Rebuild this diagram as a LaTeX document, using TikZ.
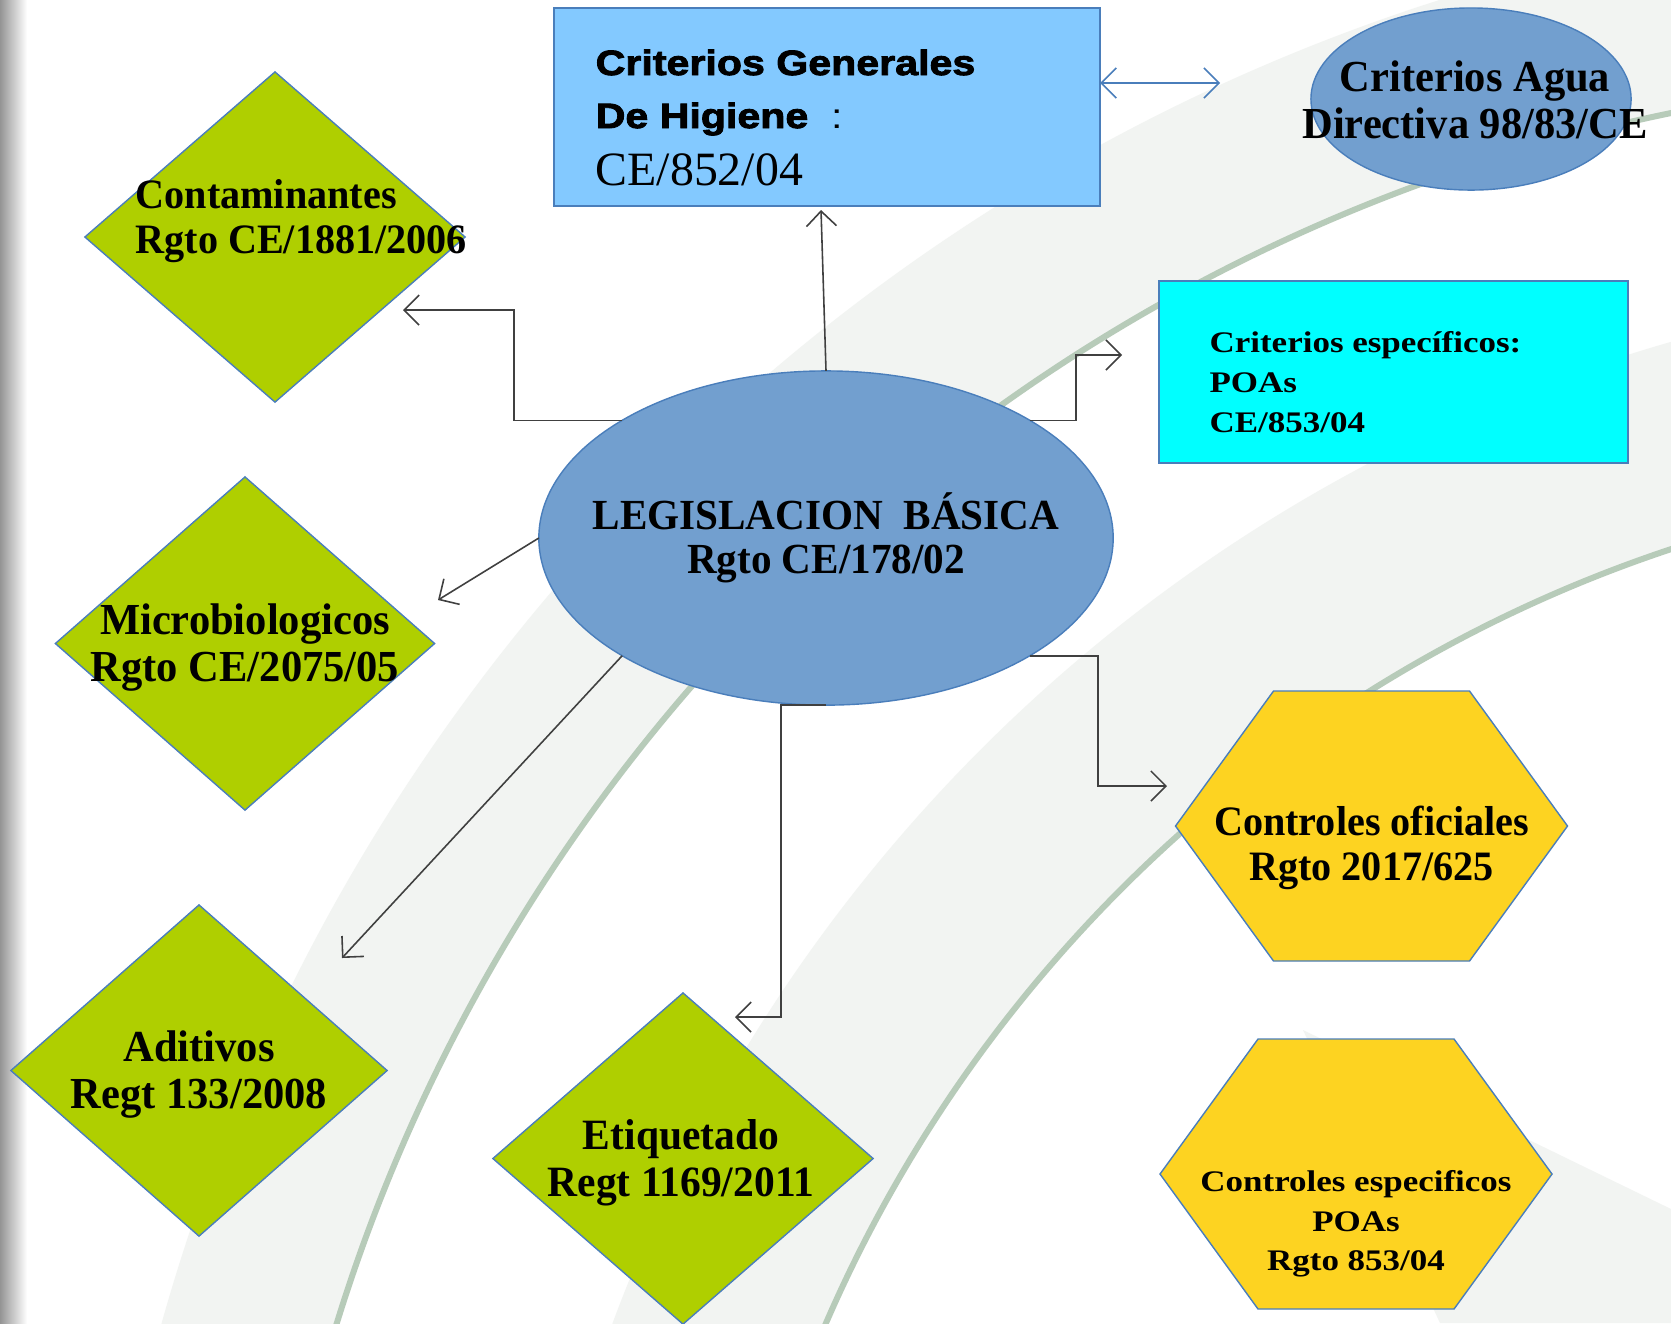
\documentclass[tikz,border=0pt]{standalone}
\usepackage{fontspec}
\setmainfont{Liberation Serif}
\newfontfamily\tnr[FakeStretch=0.96]{Liberation Serif}
\newfontfamily\tnrw[FakeStretch=1.17]{Liberation Serif}
\newfontfamily\arlw[FakeStretch=1.17, BoldFeatures={FakeBold=2.5}]{Liberation Sans}
\usetikzlibrary{shapes.geometric, arrows.meta, calc}

\definecolor{leaf}{RGB}{175,207,0}
\definecolor{sun}{RGB}{253,211,33}
\definecolor{sky}{RGB}{131,201,255}
\definecolor{aqua}{RGB}{0,255,255}
\definecolor{steel}{RGB}{114,159,207}
\definecolor{rim}{RGB}{74,126,187}
\definecolor{mist}{RGB}{242,244,242}
\definecolor{sage}{RGB}{183,203,185}

\begin{document}
\begin{tikzpicture}[x=0.01cm, y=-0.01cm,
        chev/.tip={Straight Barb[length=1.5mm, width=3mm]},
        shapebox/.style={draw=rim, line width=0.4pt, outer sep=0pt, inner sep=0pt},
        rombo/.style={shapebox, diamond, fill=leaf, minimum width=3.8cm, minimum height=3.3cm},
        ovalo/.style={shapebox, ellipse, fill=steel},
        caja/.style={shapebox, rectangle},
        hexa/.style={draw=rim, line width=0.4pt, fill=sun},
        lbl/.style={inner sep=0pt, align=center},
        link/.style={draw=black!75, line width=0.45pt, -chev},
        swoosh/.style={draw=sage, line width=0.06cm}]
        \useasboundingbox (0,0) rectangle (1671,1323);

        % Background swooshes
        \fill[white] (0,0) rectangle (1671,1323);
        \begin{scope}
            \clip (0,0) rectangle (1671,1323);
            \fill[mist, even odd rule] (2028,1847) circle (1938) (2028,1847) circle (1770);
            \fill[mist, even odd rule] (2113,1880) circle (1600) (2113,1880) circle (1402);
            \fill[mist] (1303,1030) -- (1671,1209) -- (1671,1323) -- (1440,1323) -- cycle;
            \draw[swoosh] (2028,1847) circle (1770);
            \draw[swoosh] (2113,1880) circle (1402);
        \end{scope}
        \shade[left color=black!42, right color=white] (0,0) rectangle (27,1323);

        % Shapes
        \node[caja, fill=sky, minimum width=5.46cm, minimum height=1.98cm] (cg) at (827,107) {};
        \node[ovalo, minimum width=3.2cm, minimum height=1.82cm] (ag) at (1471,99) {};
        \node[caja, fill=aqua, minimum width=4.69cm, minimum height=1.82cm] (ce) at (1393.5,372) {};
        \node[ovalo, minimum width=5.74cm, minimum height=3.34cm] (lb) at (826,538) {};
        \node[rombo] (ct) at (275,237) {};
        \node[rombo, minimum width=3.79cm, minimum height=3.33cm] (mb) at (245,643.5) {};
        \node[rombo, minimum width=3.76cm, minimum height=3.31cm] (ad) at (199,1070.5) {};
        \node[rombo, minimum height=3.31cm] (et) at (683,1158.5) {};
        \coordinate (co) at (1371.5,826);
        \coordinate (cs) at (1356,1174);
        \filldraw[hexa] ($(co)+(-196,0)$) -- ++(98,-135) -- ++(196,0) -- ++(98,135) -- ++(-98,135) -- ++(-196,0) -- cycle;
        \filldraw[hexa] ($(cs)+(-196,0)$) -- ++(98,-135) -- ++(196,0) -- ++(98,135) -- ++(-98,135) -- ++(-196,0) -- cycle;

        % Arrow ends
        \coordinate (cg-in) at (821,210);
        \coordinate (ag-in) at (1220,83);
        \coordinate (ct-in) at (403,310);
        \coordinate (ce-in) at (1122,355);
        \coordinate (mb-in) at (438,600);
        \coordinate (ad-in) at (342,958);
        \coordinate (et-in) at (735,1017);
        \coordinate (co-in) at (1167,786);

        \draw[link] (lb.north) -- (cg-in);
        \draw[link] (lb.150) -- ++(-108,0) |- (ct-in);
        \draw[link] (lb.30) -- ++(46,0) |- (ce-in);
        \draw[link] (lb.west) -- (mb-in);
        \draw[link] (lb.210) -- (ad-in);
        \draw[link] (lb.south) -- ++(-45,0) |- (et-in);
        \draw[link] (lb.330) -- ++(68,0) |- (co-in);
        \draw[link, draw=rim, chev-chev] (cg.east |- ag-in) -- (ag-in);

        % Labels
        \node[lbl, anchor=base west, font=\arlw\bfseries\fontsize{10}{11}\selectfont] (cg-a) at (595,75) {Criterios Generales};
        \node[lbl, anchor=base west, font=\arlw\bfseries\fontsize{10}{11}\selectfont] (cg-b) at (595,128) {De Higiene {\mdseries\ :}};
        \node[lbl, anchor=base west, font=\rmfamily\fontsize{13.6}{15}\selectfont] (cg-c) at (595,185) {CE/852/04};
        \node[lbl, font=\tnr\bfseries\fontsize{12.6}{13.2}\selectfont] (ag-t) at ($(ag)+(4,1)$) {Criterios Agua\\Directiva 98/83/CE};
        \node[lbl, align=left, anchor=west, font=\tnrw\bfseries\fontsize{8.5}{11.4}\selectfont] (ce-t) at ($(ce.west)+(50,10)$) {Criterios específicos:\\POAs\\CE/853/04};
        \node[lbl, font=\tnr\bfseries\fontsize{12.2}{12.6}\selectfont] (lb-t) at (lb) {LEGISLACION\ \ BÁSICA\\Rgto CE/178/02};
        \node[lbl, align=left, anchor=west, font=\tnr\bfseries\fontsize{11.9}{13}\selectfont] (ct-t) at ($(ct.west)+(50,-16)$) {Contaminantes\\Rgto CE/1881/2006};
        \node[lbl, font=\tnr\bfseries\fontsize{12.6}{13.2}\selectfont] (mb-t) at ($(mb)+(0,4)$) {Microbiologicos\\Rgto CE/2075/05};
        \node[lbl, font=\tnr\bfseries\fontsize{12.6}{13.2}\selectfont] (ad-t) at ($(ad)+(0,4)$) {Aditivos\\Regt 133/2008};
        \node[lbl, font=\tnr\bfseries\fontsize{12.3}{13.5}\selectfont] (et-t) at ($(et)+(-2,4)$) {Etiquetado\\Regt 1169/2011};
        \node[lbl, font=\tnr\bfseries\fontsize{11.9}{12.8}\selectfont] (co-t) at ($(co)+(0,22)$) {Controles oficiales\\Rgto 2017/625};
        \node[lbl, font=\tnrw\bfseries\fontsize{8.5}{11.2}\selectfont] (cs-t) at ($(cs)+(0,50)$) {Controles especificos\\POAs\\Rgto 853/04};
\end{tikzpicture}
\end{document}
